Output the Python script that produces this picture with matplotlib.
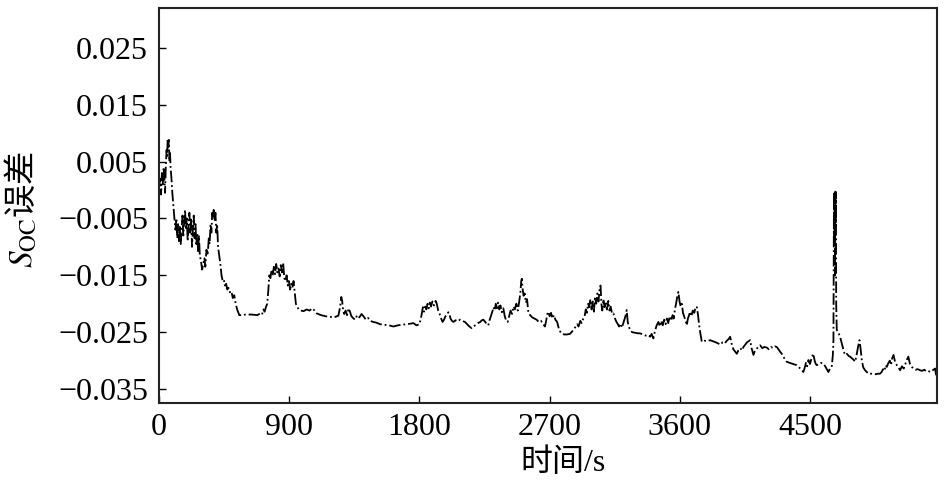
#!/usr/bin/env python3
"""SOC estimation error over time (dash-dot trace)."""

import matplotlib
matplotlib.use("Agg")
import matplotlib.pyplot as plt

# time (s) and SOC error
time_s = [
    0, 8, 14, 20, 26, 32, 38, 42, 46, 52, 56, 60, 64, 68, 72, 76, 80, 86, 92, 100,
    108, 114, 120, 126, 132, 138, 144, 150, 156, 162, 168, 174, 180, 186, 192, 198,
    204, 210, 216, 222, 228, 234, 240, 246, 252, 258, 264, 270, 276, 282, 290, 298,
    306, 314, 320, 328, 336, 344, 350, 356, 362, 368, 374, 378, 384, 390, 396, 402,
    408, 416, 424, 432, 440, 448, 456, 464, 472, 480, 490, 500, 510, 520, 530, 540,
    555, 570, 600, 640, 680, 700, 712, 722, 730, 740, 748, 756, 762, 770, 778, 786,
    794, 802, 810, 818, 826, 834, 842, 850, 858, 866, 874, 882, 890, 898, 906, 914,
    922, 930, 938, 946, 955, 965, 980, 1000, 1020, 1040, 1060, 1075, 1090, 1120,
    1150, 1182, 1210, 1240, 1252, 1260, 1266, 1272, 1280, 1290, 1300, 1310, 1320,
    1330, 1345, 1355, 1370, 1385, 1400, 1413, 1430, 1445, 1459, 1480, 1500, 1528,
    1560, 1590, 1620, 1650, 1680, 1712, 1740, 1758, 1780, 1800, 1808, 1816, 1824,
    1832, 1840, 1848, 1856, 1864, 1872, 1880, 1890, 1900, 1912, 1920, 1930, 1940,
    1950, 1960, 1970, 1980, 1990, 2000, 2007, 2015, 2025, 2035, 2050, 2065, 2080,
    2095, 2115, 2130, 2145, 2162, 2175, 2190, 2205, 2220, 2232, 2242, 2255, 2266,
    2276, 2286, 2296, 2304, 2312, 2320, 2328, 2336, 2344, 2352, 2360, 2370, 2380,
    2390, 2400, 2410, 2420, 2430, 2440, 2450, 2460, 2470, 2480, 2490, 2498, 2504,
    2508, 2514, 2520, 2528, 2536, 2544, 2553, 2565, 2580, 2595, 2610, 2625, 2640,
    2655, 2668, 2676, 2684, 2692, 2700, 2710, 2720, 2730, 2740, 2752, 2765, 2780,
    2800, 2820, 2841, 2858, 2870, 2880, 2890, 2900, 2912, 2922, 2933, 2942, 2950,
    2958, 2966, 2974, 2982, 2990, 2998, 3006, 3014, 3022, 3030, 3038, 3046, 3052,
    3058, 3064, 3072, 3080, 3088, 3096, 3106, 3114, 3122, 3132, 3141, 3152, 3162,
    3172, 3180, 3190, 3200, 3212, 3224, 3233, 3240, 3248, 3256, 3270, 3290, 3310,
    3325, 3345, 3365, 3383, 3395, 3405, 3417, 3428, 3440, 3452, 3462, 3472, 3482,
    3492, 3502, 3510, 3520, 3530, 3540, 3550, 3558, 3566, 3574, 3582, 3590, 3598,
    3606, 3614, 3622, 3632, 3640, 3648, 3656, 3664, 3671, 3680, 3690, 3700, 3710,
    3718, 3726, 3734, 3742, 3752, 3770, 3790, 3809, 3830, 3850, 3867, 3881, 3895,
    3910, 3925, 3938, 3948, 3958, 3970, 3982, 3994, 4005, 4018, 4030, 4040, 4052,
    4064, 4075, 4086, 4096, 4109, 4120, 4132, 4144, 4155, 4170, 4185, 4201, 4215,
    4230, 4245, 4258, 4270, 4282, 4295, 4305, 4320, 4339, 4360, 4385, 4408, 4425,
    4440, 4454, 4464, 4472, 4480, 4489, 4500, 4512, 4523, 4532, 4540, 4547, 4560,
    4575, 4593, 4605, 4618, 4627, 4638, 4650, 4658, 4662, 4665, 4667, 4669, 4671,
    4673, 4675, 4677, 4679, 4681, 4685, 4695, 4708, 4720, 4732, 4742, 4755, 4768,
    4777, 4790, 4800, 4812, 4822, 4832, 4842, 4850, 4858, 4868, 4881, 4892, 4904,
    4925, 4950, 4970, 4984, 4995, 5005, 5015, 5023, 5031, 5042, 5052, 5060, 5068,
    5077, 5088, 5100, 5112, 5123, 5135, 5148, 5160, 5170, 5180, 5190, 5200, 5215,
    5230, 5245, 5261, 5275, 5290, 5305, 5318, 5330, 5342, 5355, 5365, 5370, 5376,
]

soc_err = [
    0.0005, 0.0020, -0.0008, 0.0030, 0.0010, 0.0040, 0.0015, -0.0005, 0.0035, 0.0070,
    0.0060, 0.0090, 0.0075, 0.0088, 0.0050, 0.0065, 0.0040, 0.0020, -0.0005, -0.0030,
    -0.0055, -0.0070, -0.0050, -0.0085, -0.0060, -0.0090, -0.0065, -0.0095, -0.0070, -0.0045,
    -0.0080, -0.0055, -0.0035, -0.0070, -0.0050, -0.0090, -0.0060, -0.0040, -0.0075, -0.0050,
    -0.0100, -0.0070, -0.0045, -0.0085, -0.0060, -0.0095, -0.0075, -0.0110, -0.0080, -0.0115,
    -0.0125, -0.0140, -0.0130, -0.0120, -0.0135, -0.0105, -0.0115, -0.0085, -0.0095, -0.0060,
    -0.0075, -0.0040, -0.0050, -0.0035, -0.0055, -0.0040, -0.0075, -0.0060, -0.0100, -0.0115,
    -0.0130, -0.0150, -0.0160, -0.0158, -0.0168, -0.0165, -0.0175, -0.0172, -0.0180, -0.0178,
    -0.0190, -0.0185, -0.0200, -0.0210, -0.0220, -0.0220, -0.0219, -0.0219, -0.0220, -0.0217,
    -0.0219, -0.0210, -0.0214, -0.0205, -0.0200, -0.0175, -0.0150, -0.0155, -0.0140, -0.0150,
    -0.0135, -0.0148, -0.0130, -0.0145, -0.0138, -0.0152, -0.0132, -0.0145, -0.0128, -0.0155,
    -0.0160, -0.0150, -0.0168, -0.0160, -0.0175, -0.0165, -0.0172, -0.0160, -0.0180, -0.0200,
    -0.0205, -0.0210, -0.0212, -0.0213, -0.0210, -0.0212, -0.0208, -0.0212, -0.0217, -0.0220,
    -0.0222, -0.0223, -0.0224, -0.0221, -0.0205, -0.0188, -0.0195, -0.0210, -0.0218, -0.0212,
    -0.0220, -0.0208, -0.0214, -0.0222, -0.0226, -0.0228, -0.0220, -0.0224, -0.0218, -0.0222,
    -0.0228, -0.0225, -0.0230, -0.0232, -0.0233, -0.0236, -0.0237, -0.0238, -0.0240, -0.0238,
    -0.0237, -0.0236, -0.0235, -0.0234, -0.0238, -0.0236, -0.0228, -0.0218, -0.0206, -0.0214,
    -0.0205, -0.0210, -0.0200, -0.0208, -0.0198, -0.0205, -0.0196, -0.0203, -0.0195, -0.0200,
    -0.0212, -0.0218, -0.0226, -0.0232, -0.0228, -0.0222, -0.0220, -0.0215, -0.0218, -0.0226,
    -0.0230, -0.0232, -0.0229, -0.0231, -0.0228, -0.0230, -0.0232, -0.0236, -0.0240, -0.0243,
    -0.0240, -0.0237, -0.0234, -0.0232, -0.0229, -0.0228, -0.0232, -0.0236, -0.0238, -0.0228,
    -0.0220, -0.0214, -0.0206, -0.0212, -0.0200, -0.0208, -0.0198, -0.0210, -0.0203, -0.0215,
    -0.0208, -0.0222, -0.0230, -0.0232, -0.0222, -0.0212, -0.0218, -0.0205, -0.0210, -0.0200,
    -0.0212, -0.0196, -0.0180, -0.0160, -0.0156, -0.0175, -0.0186, -0.0182, -0.0198, -0.0192,
    -0.0215, -0.0220, -0.0224, -0.0226, -0.0228, -0.0232, -0.0230, -0.0236, -0.0240, -0.0230,
    -0.0218, -0.0214, -0.0222, -0.0216, -0.0226, -0.0220, -0.0228, -0.0232, -0.0245, -0.0252,
    -0.0254, -0.0254, -0.0253, -0.0248, -0.0244, -0.0240, -0.0236, -0.0240, -0.0230, -0.0234,
    -0.0226, -0.0222, -0.0210, -0.0216, -0.0200, -0.0206, -0.0192, -0.0210, -0.0196, -0.0214,
    -0.0188, -0.0200, -0.0182, -0.0196, -0.0172, -0.0168, -0.0200, -0.0212, -0.0192, -0.0206,
    -0.0196, -0.0210, -0.0195, -0.0212, -0.0205, -0.0218, -0.0217, -0.0226, -0.0232, -0.0236,
    -0.0240, -0.0235, -0.0242, -0.0232, -0.0222, -0.0211, -0.0232, -0.0240, -0.0246, -0.0250,
    -0.0251, -0.0252, -0.0252, -0.0254, -0.0256, -0.0255, -0.0258, -0.0253, -0.0261, -0.0248,
    -0.0238, -0.0232, -0.0240, -0.0230, -0.0238, -0.0228, -0.0236, -0.0226, -0.0234, -0.0222,
    -0.0230, -0.0220, -0.0226, -0.0210, -0.0200, -0.0188, -0.0179, -0.0196, -0.0205, -0.0200,
    -0.0216, -0.0224, -0.0230, -0.0238, -0.0226, -0.0220, -0.0214, -0.0222, -0.0212, -0.0216,
    -0.0205, -0.0206, -0.0220, -0.0238, -0.0252, -0.0267, -0.0265, -0.0266, -0.0264, -0.0266,
    -0.0268, -0.0270, -0.0272, -0.0268, -0.0270, -0.0265, -0.0262, -0.0258, -0.0270, -0.0280,
    -0.0284, -0.0288, -0.0282, -0.0278, -0.0282, -0.0276, -0.0272, -0.0268, -0.0266, -0.0264,
    -0.0278, -0.0290, -0.0282, -0.0279, -0.0276, -0.0273, -0.0278, -0.0276, -0.0277, -0.0280,
    -0.0276, -0.0278, -0.0275, -0.0276, -0.0280, -0.0285, -0.0288, -0.0295, -0.0302, -0.0304,
    -0.0306, -0.0308, -0.0312, -0.0316, -0.0320, -0.0312, -0.0304, -0.0310, -0.0299, -0.0306,
    -0.0294, -0.0288, -0.0300, -0.0306, -0.0308, -0.0306, -0.0304, -0.0305, -0.0310, -0.0316,
    -0.0320, -0.0314, -0.0311, -0.0290, -0.0264, -0.0050, -0.0003, -0.0080, -0.0010, -0.0150,
    0.0000, -0.0060, -0.0004, -0.0200, -0.0246, -0.0250, -0.0258, -0.0270, -0.0282, -0.0290,
    -0.0288, -0.0292, -0.0293, -0.0296, -0.0298, -0.0302, -0.0290, -0.0276, -0.0264, -0.0280,
    -0.0299, -0.0312, -0.0317, -0.0320, -0.0323, -0.0323, -0.0324, -0.0323, -0.0323, -0.0320,
    -0.0315, -0.0318, -0.0308, -0.0311, -0.0304, -0.0300, -0.0308, -0.0296, -0.0290, -0.0302,
    -0.0308, -0.0312, -0.0317, -0.0310, -0.0314, -0.0305, -0.0298, -0.0293, -0.0305, -0.0310,
    -0.0314, -0.0316, -0.0315, -0.0317, -0.0318, -0.0316, -0.0319, -0.0318, -0.0320, -0.0318,
    -0.0316, -0.0314, -0.0324, -0.0326,
]

x_ticks = [0, 900, 1800, 2700, 3600, 4500]
y_ticks = [0.025, 0.015, 0.005, -0.005, -0.015, -0.025, -0.035]

plt.rcParams["font.family"] = ["Liberation Serif", "Noto Sans CJK SC"]
plt.rcParams["mathtext.fontset"] = "stix"
plt.rcParams["axes.unicode_minus"] = True

fig = plt.figure(figsize=(9.46, 4.86), dpi=100)
ax = fig.add_axes([0.1681, 0.1702, 0.8221, 0.8134])

ax.plot(time_s, soc_err, color="black", lw=1.3, linestyle="-.")

ax.set_xlim(0, 5376)
ax.set_ylim(-0.0375, 0.032)
ax.set_xticks(x_ticks)
ax.set_xticklabels([str(t) for t in x_ticks])
ax.set_yticks(y_ticks)
ax.set_yticklabels([f"{v:.3f}".replace("-", "\u2212") for v in y_ticks])

ax.tick_params(direction="in", length=5, width=1.0, labelsize=23,
               top=False, right=False)
ax.tick_params(axis="y", pad=8)
ax.tick_params(axis="x", pad=7)
for sp in ax.spines.values():
    sp.set_linewidth(1.5)
    sp.set_color("#222222")

ax.set_xlabel("时间/s", fontsize=23)
ax.xaxis.set_label_coords(0.52, -0.115)
ax.set_ylabel(r"$S_{\mathrm{OC}}$误差", fontsize=24, family="Noto Sans CJK SC")
ax.yaxis.set_label_coords(-0.153, 0.49)

fig.savefig("out.png", dpi=100)
